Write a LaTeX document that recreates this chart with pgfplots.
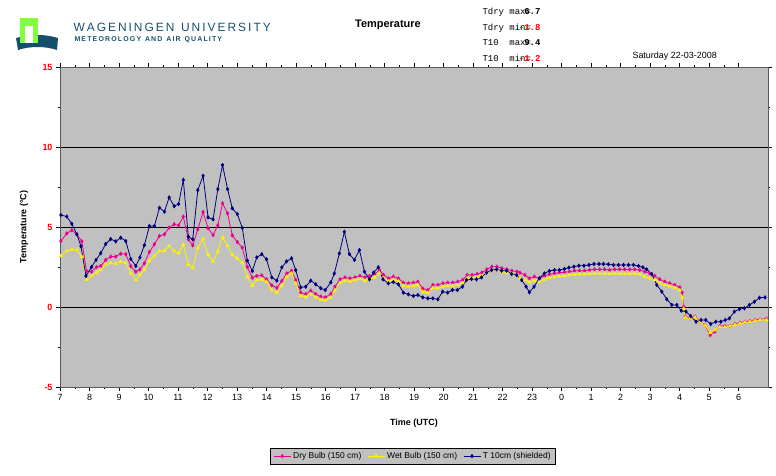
\documentclass[border=0pt]{standalone}
\usepackage{pgfplots}
\pgfplotsset{compat=1.18}
\usepackage{fontspec}
\setmainfont{Liberation Sans}
\newfontfamily\mono{Liberation Mono}
\definecolor{bg}{RGB}{192,192,192}
\definecolor{tnavy}{RGB}{0,0,128}
\definecolor{wublue}{RGB}{20,80,110}
\definecolor{wugreen}{RGB}{130,255,60}
\begin{document}
\begin{tikzpicture}
\path (0bp,0bp) rectangle (776bp,-476bp);
% logo
\fill[wublue] (16bp,-38bp) .. controls (30bp,-34bp) and (45bp,-34bp) .. (58bp,-38bp) -- (57bp,-50bp) .. controls (45bp,-46bp) and (30bp,-46bp) .. (18bp,-50bp) -- cycle;
\fill[wugreen] (20bp,-18bp) rectangle (38bp,-43bp);
\fill[white] (25bp,-26bp) rectangle (33bp,-43bp);
\node[anchor=west,text=wublue,font=\fontsize{12}{12}\selectfont] at (70bp,-27bp) {W\,A\,G\,E\,N\,I\,N\,G\,E\,N\ \ U\,N\,I\,V\,E\,R\,S\,I\,T\,Y};
\node[anchor=west,text=wublue,font=\fontsize{7}{7}\selectfont\bfseries] at (71bp,-40bp) {M\,E\,T\,E\,O\,R\,O\,L\,O\,G\,Y\ \ A\,N\,D\ \ A\,I\,R\ \ Q\,U\,A\,L\,I\,T\,Y};
\node[font=\fontsize{11}{11}\selectfont\bfseries] at (388bp,-25bp) {Temperature};
\foreach \t/\v/\c/\yy in {Tdry max=/6.7/black/12,Tdry min=/-1.8/red/28,T10\ \ max=/9.4/black/43,T10\ \ min=/-1.2/red/58}{
  \node[anchor=west,font=\mono\fontsize{9}{9}\selectfont] at (479bp,-\yy bp) {\t};
  \node[anchor=east,text=\c,font=\mono\bfseries\fontsize{9}{9}\selectfont] at (544bp,-\yy bp) {\v};
}
\node[anchor=west,font=\fontsize{9}{9}\selectfont] at (629bp,-56bp) {Saturday 22-03-2008};
\node[font=\fontsize{9}{9}\selectfont\bfseries] at (414bp,-423bp) {Time (UTC)};
\node[rotate=90,font=\fontsize{9}{9}\selectfont\bfseries] at (24bp,-227bp) {Temperature (\textdegree C)};
\begin{axis}[at={(60bp,-387bp)},anchor=south west,scale only axis,width=708bp,height=320bp,
  xmin=0,xmax=24,ymin=-5,ymax=15,
  axis background/.style={fill=bg},
  axis line style={gray!70!black},
  xtick={0,...,23},xticklabels={7,8,9,10,11,12,13,14,15,16,17,18,19,20,21,22,23,0,1,2,3,4,5,6},
  minor x tick num=1,
  ytick={-5,0,5,10,15},minor y tick num=1,
  tick align=outside,tick style={black},
  major tick length=4bp,minor tick length=2bp,
  yticklabel style={text=red,font=\bfseries\fontsize{9}{9}\selectfont},
  xticklabel style={font=\fontsize{9}{9}\selectfont},
  /pgf/number format/assume math mode=true,
  ymajorgrids,grid style={black,line width=0.8pt},
  legend style={at={(0.4986,-0.216)},anchor=center,legend columns=3,fill=bg,draw=black,font=\fontsize{8.5}{9}\selectfont,
    /tikz/every even column/.append style={column sep=4bp}},
  every axis plot/.append style={line width=0.8pt,mark size=1.6pt},
]
\addplot[magenta,mark=diamond*] coordinates {
(0.03,4.12)(0.23,4.6)(0.4,4.8)(0.57,4.55)(0.74,4.1)(0.9,2.25)(1.07,2.2)(1.24,2.5)(1.38,2.56)(1.55,2.94)(1.72,3.15)(1.89,3.15)(2.06,3.33)(2.23,3.3)(2.4,2.56)(2.57,2.2)(2.71,2.35)(2.86,2.73)(3.03,3.44)(3.2,3.92)(3.37,4.44)(3.54,4.54)(3.7,4.96)(3.87,5.17)(4.02,5.1)(4.18,5.65)(4.35,4.23)(4.5,3.85)(4.67,4.85)(4.85,5.94)(5.02,4.92)(5.19,4.5)(5.35,5.1)(5.51,6.48)(5.68,5.85)(5.84,4.48)(6.01,4.06)(6.18,3.71)(6.35,2.5)(6.52,1.83)(6.67,1.94)(6.84,1.98)(7.0,1.73)(7.18,1.35)(7.35,1.2)(7.52,1.63)(7.69,2.1)(7.85,2.27)(7.99,1.69)(8.16,0.9)(8.33,0.81)(8.5,1.02)(8.67,0.81)(8.84,0.65)(8.99,0.6)(9.18,0.81)(9.32,1.27)(9.49,1.73)(9.66,1.85)(9.83,1.79)(10.0,1.85)(10.17,1.94)(10.34,1.85)(10.49,1.94)(10.66,2.06)(10.83,2.31)(10.97,2.0)(11.14,1.79)(11.3,1.9)(11.47,1.79)(11.64,1.52)(11.81,1.48)(11.98,1.52)(12.13,1.58)(12.3,1.15)(12.47,1.06)(12.64,1.38)(12.81,1.38)(12.98,1.48)(13.14,1.52)(13.31,1.52)(13.48,1.58)(13.65,1.69)(13.8,2.0)(13.97,2.0)(14.14,2.06)(14.3,2.15)(14.47,2.35)(14.64,2.52)(14.81,2.52)(14.98,2.42)(15.15,2.35)(15.32,2.27)(15.49,2.21)(15.59,2.15)(15.76,2.0)(15.91,1.79)(16.08,1.9)(16.25,1.79)(16.42,1.94)(16.59,2.04)(16.76,2.1)(16.93,2.15)(17.1,2.17)(17.27,2.21)(17.44,2.27)(17.61,2.27)(17.78,2.27)(17.95,2.31)(18.12,2.35)(18.29,2.35)(18.46,2.35)(18.63,2.31)(18.8,2.35)(18.97,2.35)(19.14,2.35)(19.31,2.35)(19.48,2.35)(19.65,2.31)(19.82,2.21)(19.99,2.1)(20.16,1.94)(20.33,1.73)(20.5,1.58)(20.67,1.48)(20.84,1.38)(21.01,1.23)(21.09,0.9)(21.14,0.02)(21.2,-0.6)(21.36,-0.71)(21.53,-0.6)(21.7,-0.92)(21.87,-1.13)(22.04,-1.75)(22.2,-1.54)(22.37,-1.19)(22.54,-1.19)(22.71,-1.19)(22.88,-1.06)(23.05,-0.98)(23.22,-0.92)(23.39,-0.88)(23.56,-0.81)(23.73,-0.77)(23.95,-0.73)
};
\addlegendentry{Dry Bulb (150 cm)}
\addplot[yellow,mark=triangle*] coordinates {
(0.03,3.19)(0.23,3.5)(0.4,3.6)(0.57,3.56)(0.74,3.15)(0.9,1.69)(1.07,1.94)(1.24,2.15)(1.38,2.33)(1.55,2.65)(1.72,2.75)(1.89,2.71)(2.06,2.85)(2.23,2.75)(2.4,2.13)(2.57,1.69)(2.71,2.0)(2.86,2.33)(3.03,2.9)(3.2,3.19)(3.37,3.5)(3.54,3.5)(3.7,3.81)(3.87,3.5)(4.02,3.36)(4.18,3.9)(4.35,2.65)(4.5,2.44)(4.67,3.69)(4.85,4.25)(5.02,3.27)(5.19,2.85)(5.35,3.48)(5.51,4.35)(5.68,3.81)(5.84,3.25)(6.01,3.04)(6.18,2.77)(6.35,1.9)(6.52,1.33)(6.67,1.69)(6.84,1.73)(7.0,1.58)(7.18,1.06)(7.35,0.9)(7.52,1.33)(7.69,1.9)(7.85,2.1)(7.99,1.48)(8.16,0.69)(8.33,0.62)(8.5,0.8)(8.67,0.6)(8.84,0.45)(8.99,0.42)(9.18,0.6)(9.32,1.05)(9.49,1.5)(9.66,1.65)(9.83,1.6)(10.0,1.68)(10.17,1.75)(10.34,1.65)(10.49,1.75)(10.66,1.85)(10.83,2.12)(10.97,1.8)(11.14,1.6)(11.3,1.7)(11.47,1.6)(11.64,1.32)(11.81,1.28)(11.98,1.32)(12.13,1.38)(12.3,0.95)(12.47,0.88)(12.64,1.18)(12.81,1.18)(12.98,1.28)(13.14,1.32)(13.31,1.32)(13.48,1.38)(13.65,1.5)(13.8,1.8)(13.97,1.8)(14.14,1.86)(14.3,1.95)(14.47,2.15)(14.64,2.3)(14.81,2.32)(14.98,2.22)(15.15,2.15)(15.32,2.07)(15.49,2.0)(15.59,1.8)(15.76,1.7)(15.91,1.55)(16.08,1.65)(16.25,1.58)(16.42,1.72)(16.59,1.82)(16.76,1.88)(16.93,1.92)(17.1,1.95)(17.27,2.0)(17.44,2.03)(17.61,2.05)(17.78,2.05)(17.95,2.08)(18.12,2.1)(18.29,2.1)(18.46,2.1)(18.63,2.08)(18.8,2.1)(18.97,2.1)(19.14,2.1)(19.31,2.08)(19.48,2.1)(19.65,2.05)(19.82,1.9)(19.99,1.8)(20.16,1.7)(20.33,1.5)(20.5,1.38)(20.67,1.3)(20.84,1.2)(21.01,1.05)(21.09,0.6)(21.14,-0.1)(21.2,-0.65)(21.36,-0.72)(21.53,-0.65)(21.7,-0.95)(21.87,-1.15)(22.04,-1.6)(22.2,-1.45)(22.37,-1.25)(22.54,-1.25)(22.71,-1.2)(22.88,-1.1)(23.05,-1.02)(23.22,-0.95)(23.39,-0.92)(23.56,-0.85)(23.73,-0.8)(23.95,-0.8)
};
\addlegendentry{Wet Bulb (150 cm)}
\addplot[tnavy,mark=diamond*] coordinates {
(0.03,5.75)(0.23,5.65)(0.4,5.2)(0.57,4.55)(0.71,3.8)(0.88,1.94)(1.07,2.5)(1.22,2.94)(1.38,3.36)(1.55,3.94)(1.72,4.25)(1.89,4.1)(2.06,4.33)(2.23,4.12)(2.4,3.0)(2.57,2.56)(2.71,3.1)(2.86,3.86)(3.03,5.06)(3.2,5.06)(3.37,6.2)(3.54,5.96)(3.7,6.85)(3.87,6.3)(4.02,6.44)(4.18,7.94)(4.35,4.4)(4.5,4.23)(4.67,7.3)(4.85,8.2)(5.02,5.6)(5.19,5.48)(5.35,7.37)(5.51,8.87)(5.68,7.37)(5.84,6.17)(6.01,5.81)(6.18,4.94)(6.35,2.9)(6.52,2.25)(6.67,3.1)(6.84,3.3)(7.0,2.98)(7.18,1.85)(7.35,1.65)(7.52,2.48)(7.68,2.85)(7.85,3.04)(7.99,2.31)(8.16,1.23)(8.33,1.27)(8.5,1.65)(8.67,1.42)(8.84,1.17)(8.99,1.06)(9.18,1.54)(9.3,2.1)(9.47,3.35)(9.64,4.7)(9.81,3.31)(9.98,2.94)(10.15,3.56)(10.32,2.21)(10.49,1.73)(10.63,2.15)(10.79,2.48)(10.95,1.73)(11.13,1.48)(11.3,1.56)(11.47,1.42)(11.64,0.9)(11.81,0.79)(11.98,0.69)(12.13,0.75)(12.3,0.6)(12.47,0.54)(12.64,0.54)(12.81,0.48)(12.97,0.96)(13.14,0.9)(13.3,1.06)(13.47,1.06)(13.64,1.27)(13.78,1.69)(13.95,1.75)(14.12,1.73)(14.29,1.85)(14.46,2.15)(14.63,2.31)(14.8,2.35)(14.97,2.27)(15.14,2.27)(15.31,2.06)(15.48,2.0)(15.65,1.69)(15.8,1.27)(15.91,0.92)(16.07,1.27)(16.25,1.79)(16.42,2.1)(16.59,2.25)(16.76,2.31)(16.93,2.31)(17.1,2.38)(17.25,2.46)(17.42,2.52)(17.59,2.58)(17.76,2.58)(17.93,2.63)(18.1,2.69)(18.27,2.69)(18.42,2.69)(18.59,2.67)(18.76,2.63)(18.93,2.63)(19.1,2.63)(19.27,2.63)(19.44,2.63)(19.61,2.56)(19.76,2.48)(19.89,2.35)(20.06,2.06)(20.23,1.38)(20.4,0.96)(20.57,0.48)(20.74,0.13)(20.91,0.13)(21.06,-0.23)(21.22,-0.29)(21.38,-0.56)(21.56,-0.92)(21.73,-0.81)(21.89,-0.81)(22.06,-1.06)(22.23,-0.92)(22.4,-0.92)(22.55,-0.81)(22.69,-0.71)(22.86,-0.29)(23.03,-0.13)(23.2,-0.08)(23.37,0.13)(23.54,0.33)(23.71,0.58)(23.9,0.6)
};
\addlegendentry{T 10cm (shielded)}
\end{axis}
\end{tikzpicture}
\end{document}
